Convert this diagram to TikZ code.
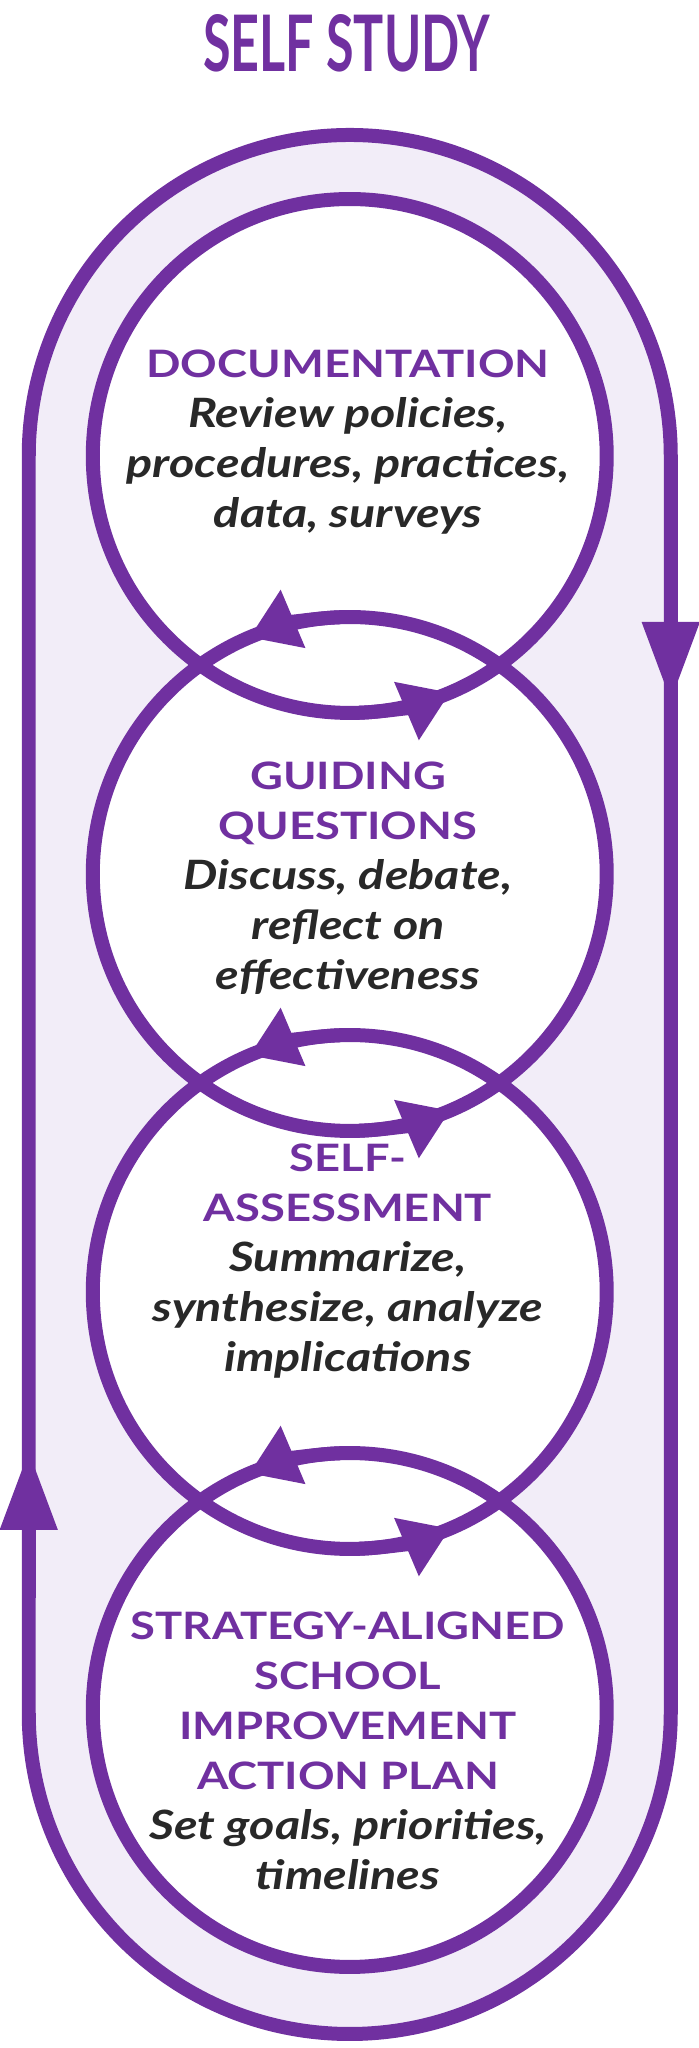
\documentclass[tikz,border=0pt]{standalone}
\usepackage{fontspec}
\setmainfont{Lato}[FakeStretch=1.2]
\usepackage{graphicx}
\usetikzlibrary{arrows.meta, calc}
\definecolor{ring}{RGB}{112,48,160}
\definecolor{band}{RGB}{242,237,248}
\definecolor{ink}{RGB}{40,40,40}
\newcommand{\hd}[1]{{\color{ring}\fontsize{21.5}{28.5}\selectfont\upshape\bfseries #1}}

\begin{document}
\begin{tikzpicture}[x=0.02cm, y=0.02cm,
    stage/.style={circle, draw=ring, line width=0.28cm, minimum size=10.28cm, inner sep=0pt, outer sep=0pt},
    blurb/.style={align=center, text=ink, inner sep=0pt, font=\fontsize{23}{28.5}\selectfont\bfseries\itshape},
    loop/.style={draw=ring, line width=0.28cm},
    turn/.style={ring, line width=0.28cm, -{Triangle[width=1.2cm, length=0.95cm]}},
    cycle arrow/.style={ring, line width=0.28cm, -{Triangle[width=1.08cm, length=1.6cm]}}]
    \useasboundingbox (0,0) rectangle (698,2048);

    % Title
    \node[inner sep=0pt, text=ring] (title) at (346.5,2004.5) {\resizebox{5.74cm}{1.14cm}{\bfseries SELF STUDY}};

    % Outer loop
    \coordinate (rtop) at (670.75,1592);
    \coordinate (rbot) at (670.75,335);
    \coordinate (ltop) at (28.75,1592);
    \coordinate (lbot) at (28.75,335);
    \filldraw[loop, fill=band] (lbot) -- (ltop) arc[start angle=180, end angle=0, radius=321]
      -- (rbot) arc[start angle=0, end angle=-180, radius=321] -- cycle;
    \coordinate (rtip) at (670.75,1346);
    \coordinate (ltip) at (28.75,598);
    \draw[cycle arrow] (670.75,1500) -- (rtip);
    \draw[cycle arrow] (28.75,450) -- (ltip);

    % Circles
    \foreach \y in {1592,1174,756,338}
      \fill[white] (349.75,\y) circle[radius=257];
    \node[stage] (doc) at (349.75,1592) {};
    \node[stage] (guide) at (349.75,1174) {};
    \node[stage] (assess) at (349.75,756) {};
    \node[stage] (plan) at (349.75,338) {};

    % Texts
    \node[blurb] (doctext) at (348,1606) {\hd{DOCUMENTATION}\\Review policies,\\procedures, practices,\\data, surveys};
    \node[blurb] (guidetext) at (348,1170) {\hd{GUIDING}\\\hd{QUESTIONS}\\Discuss, debate,\\reflect on\\effectiveness};
    \node[blurb] (assesstext) at (348,787) {\hd{SELF-}\\\hd{ASSESSMENT}\\Summarize,\\synthesize, analyze\\implications};
    \node[blurb] (plantext) at (348,297) {\hd{STRATEGY-ALIGNED}\\\hd{SCHOOL}\\\hd{IMPROVEMENT}\\\hd{ACTION PLAN}\\Set goals, priorities,\\timelines};

    % Arrows between circles
    \foreach \a in {doc, guide, assess}
      \draw[turn] (\a.-88) arc[start angle=-88, end angle=-67, radius=257];
    \foreach \a in {guide, assess, plan}
      \draw[turn] (\a.92) arc[start angle=92, end angle=113, radius=257];
\end{tikzpicture}
\end{document}
